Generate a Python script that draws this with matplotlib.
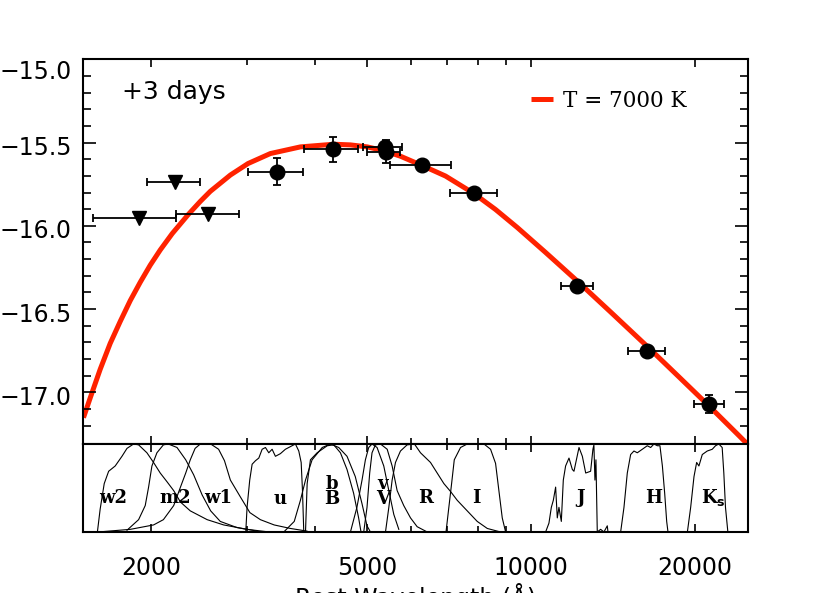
"""
SED at +3 days: broad-band photometry with a T = 7000 K blackbody,
plus the filter transmission curves underneath.
"""
import matplotlib
matplotlib.use("Agg")
import matplotlib.pyplot as plt
import matplotlib.transforms as mtransforms
from matplotlib.ticker import NullFormatter

# ── Photometry ───────────────────────────────────────────────────
det_wave = [3411, 4317, 5375, 5400, 6304, 7847, 12155, 16355, 21232]
det_mag = [-15.674, -15.540, -15.524, -15.554, -15.634, -15.800, -16.364, -16.754, -17.070]
det_wave_lo = [3017, 3830, 4911, 4994, 5512, 7086, 11325, 15092, 19950]
det_wave_hi = [3808, 4800, 5793, 5750, 7108, 8638, 12990, 17620, 22570]
det_mag_err = [0.080, 0.074, 0.030, 0.070, 0.015, 0.015, 0.015, 0.015, 0.055]

# UV upper limits (w2, m2, w1)
lim_wave = [1900, 2210, 2550]
lim_mag = [-15.950, -15.734, -15.930]
lim_wave_lo = [1568, 1967, 2223]
lim_wave_hi = [2223, 2465, 2908]

# Blackbody model curve
bb_wave = [1503, 1547, 1613, 1683, 1756, 1832, 1911, 1994, 2080, 2189, 2345,
           2465, 2571, 2799, 3016, 3315, 3765, 4335, 4653, 4994, 5351, 5750,
           6304, 6958, 7847, 8600, 9428, 10629, 12158, 14001, 16354, 18673,
           21231, 23946, 25120]
bb_mag = [-17.152, -17.032, -16.862, -16.706, -16.574, -16.449, -16.339, -16.236,
          -16.145, -16.046, -15.930, -15.853, -15.793, -15.695, -15.626, -15.566,
          -15.526, -15.510, -15.514, -15.526, -15.548, -15.582, -15.638, -15.701,
          -15.806, -15.902, -16.010, -16.160, -16.332, -16.518, -16.725, -16.906,
          -17.082, -17.251, -17.319]

# ── Filter transmission curves ───────────────────────────────────
w2_wave = [1595, 1613, 1641, 1672, 1719, 1769, 1807, 1858, 1898, 1966, 2022, 2080,
           2141, 2202, 2266, 2362, 2537, 2721, 3004, 3300]
w2_trans = [0.01, 0.26, 0.55, 0.69, 0.75, 0.86, 0.95, 1.0, 0.99, 0.90, 0.79, 0.67,
            0.57, 0.47, 0.34, 0.24, 0.14, 0.08, 0.03, 0.0]
m2_wave = [1807, 1898, 1952, 1980, 2008, 2051, 2108, 2152, 2233, 2317, 2396, 2484,
           2575, 2682, 2879, 3134]
m2_trans = [0.02, 0.14, 0.30, 0.51, 0.75, 0.90, 0.99, 1.0, 0.96, 0.82, 0.65, 0.42,
            0.24, 0.12, 0.05, 0.01]
w1_wave = [1600, 1833, 2022, 2108, 2202, 2266, 2317, 2362, 2411, 2465, 2575, 2663,
           2730, 2799, 2919, 3040, 3178, 3369, 3609, 3871]
w1_trans = [0.0, 0.03, 0.08, 0.14, 0.30, 0.51, 0.67, 0.82, 0.95, 1.0, 1.0, 0.94,
            0.81, 0.59, 0.40, 0.22, 0.14, 0.08, 0.04, 0.01]
u_wave = [2988, 3004, 3038, 3069, 3113, 3157, 3202, 3247, 3293, 3340, 3387, 3459,
          3533, 3609, 3686, 3739, 3777, 3798, 3819]
u_trans = [0.01, 0.28, 0.59, 0.77, 0.81, 0.84, 0.94, 0.96, 0.90, 0.94, 0.86, 0.89,
           0.94, 0.97, 1.0, 0.92, 0.79, 0.47, 0.0]
b_wave = [3847, 3874, 3928, 4041, 4218, 4336, 4460, 4586, 4716, 4817, 4866]
b_trans = [0.0, 0.55, 0.82, 0.90, 0.98, 0.99, 0.90, 0.71, 0.44, 0.16, 0.0]
B_wave = [3509, 3668, 3765, 3847, 3956, 4129, 4275, 4428, 4586, 4749, 4887, 4991, 5064]
B_trans = [0.0, 0.12, 0.36, 0.59, 0.82, 0.96, 1.0, 0.96, 0.86, 0.63, 0.32, 0.07, 0.0]
v_wave = [4653, 4782, 4887, 4957, 5027, 5098, 5208, 5358, 5474, 5590, 5710]
v_trans = [0.0, 0.28, 0.59, 0.82, 0.96, 1.0, 0.96, 0.75, 0.47, 0.20, 0.03]
V_wave = [4922, 4991, 5048, 5098, 5171, 5284, 5436, 5551, 5670, 5831, 6000, 6171, 6440]
V_trans = [0.0, 0.28, 0.67, 0.90, 0.99, 1.0, 0.94, 0.75, 0.47, 0.30, 0.16, 0.06, 0.0]
R_wave = [5397, 5474, 5551, 5630, 5750, 5914, 6100, 6259, 6530, 6717, 6910, 7108,
          7312, 7628, 7958, 8304, 8784]
R_trans = [0.0, 0.28, 0.59, 0.79, 0.92, 0.99, 1.0, 0.90, 0.79, 0.67, 0.55, 0.46,
           0.36, 0.24, 0.12, 0.04, 0.0]
I_wave = [6973, 7057, 7140, 7221, 7415, 7628, 8188, 8420, 8600, 8722, 8847, 8974]
I_trans = [0.0, 0.28, 0.55, 0.82, 0.96, 1.0, 1.0, 0.94, 0.78, 0.47, 0.16, 0.0]
J_wave = [10630, 10780, 10890, 10982, 11090, 11168, 11247, 11360, 11456, 11568,
          11735, 11903, 11985, 12243, 12418, 12595, 12860, 12986, 13040, 13097,
          13153, 13228, 13417, 13606, 13800, 13840]
J_trans = [0.0, 0.10, 0.28, 0.36, 0.51, 0.16, 0.28, 0.12, 0.59, 0.75,
           0.84, 0.71, 0.69, 0.96, 0.86, 0.67, 0.69, 0.94, 0.99, 0.59,
           0.82, 0.0, 0.03, 0.0, 0.07, 0.0]
H_wave = [14603, 14810, 15020, 15234, 15449, 15669, 16005, 16346, 16581, 16816,
          17057, 17245, 17425, 17595, 17745, 17843]
H_trans = [0.0, 0.28, 0.67, 0.88, 0.92, 0.90, 0.94, 0.98, 0.96, 1.0,
           0.98, 0.98, 0.75, 0.44, 0.12, 0.0]
K_wave = [19370, 19641, 19920, 20145, 20339, 20630, 21068, 21520, 21821, 22128,
          22443, 22600, 22760, 22990]
K_trans = [0.0, 0.28, 0.63, 0.79, 0.75, 0.88, 0.92, 0.94, 0.98, 1.0,
           0.96, 0.67, 0.28, 0.0]

filt_label = ["w2", "m2", "w1", "u", "b\nB", "v\nV", "R", "I", "J", "H", r"K$_\mathbf{s}$"]
filt_label_wave = [1707, 2217, 2663, 3459, 4295, 5340, 6390, 7935, 12326, 16816, 21600]
filt_label_y = [0.39, 0.39, 0.39, 0.38, 0.46, 0.46, 0.39, 0.39, 0.39, 0.39, 0.39]

x_ticks = [2000, 5000, 10000, 20000]
x_minor = [3000, 4000, 6000, 7000, 8000, 9000]

RED = "#ff2200"

# ── Figure ───────────────────────────────────────────────────────
fig = plt.figure(figsize=(8.3, 5.93), dpi=100)
ax = fig.add_axes([0.100, 0.2513, 0.8008, 0.6487])
axf = fig.add_axes([0.100, 0.1029, 0.8008, 0.1484])

# blackbody
ax.plot(bb_wave, bb_mag, color=RED, lw=3.6, solid_capstyle="butt",
        solid_joinstyle="round", zorder=1, label="T = 7000 K")

# detections
xerr = [[w - lo for w, lo in zip(det_wave, det_wave_lo)],
        [hi - w for w, hi in zip(det_wave, det_wave_hi)]]
ax.errorbar(det_wave, det_mag, xerr=xerr, yerr=det_mag_err, fmt="o",
            color="black", ms=10.5, ecolor="black", elinewidth=1.3,
            capsize=3, capthick=1.3, zorder=3)

# upper limits
lxerr = [[w - lo for w, lo in zip(lim_wave, lim_wave_lo)],
         [hi - w for w, hi in zip(lim_wave, lim_wave_hi)]]
ax.errorbar(lim_wave, lim_mag, xerr=lxerr, fmt="v", color="black", ms=10.5,
            ecolor="black", elinewidth=1.3, capsize=3, capthick=1.3, zorder=3)

ax.set_xscale("log")
ax.set_xlim(1500, 25000)
ax.set_ylim(-17.31, -15.0)
ax.set_yticks([-17.0, -16.5, -16.0, -15.5, -15.0])
ax.set_yticks([-17.2 + 0.1 * i for i in range(23)], minor=True)
ax.set_xticks(x_ticks)
ax.set_xticks(x_minor, minor=True)
ax.xaxis.set_minor_formatter(NullFormatter())
ax.tick_params(which="both", direction="in", top=True, right=True, width=1.2,
               labelbottom=False)
ax.tick_params(axis="y", which="major", length=9.5, labelsize=17, pad=8)
ax.tick_params(axis="y", which="minor", length=5.5)
ax.tick_params(axis="x", which="major", length=6)
ax.tick_params(axis="x", which="minor", length=4.5)

ax.text(0.058, 0.915, "+3 days", transform=ax.transAxes, fontsize=18,
        ha="left", va="center")
ax.legend(loc="center left", bbox_to_anchor=(0.6735, 0.892), frameon=False,
          borderaxespad=0, borderpad=0, handlelength=1.05, handletextpad=0.45,
          prop={"family": "DejaVu Serif", "size": 15.5})

# ── Filter panel ─────────────────────────────────────────────────
filters = [(w2_wave, w2_trans), (m2_wave, m2_trans), (w1_wave, w1_trans),
           (u_wave, u_trans), (b_wave, b_trans), (B_wave, B_trans),
           (v_wave, v_trans), (V_wave, V_trans), (R_wave, R_trans),
           (I_wave, I_trans), (J_wave, J_trans), (H_wave, H_trans),
           (K_wave, K_trans)]
for wave, trans in filters:
    axf.plot(wave, trans, color="black", lw=0.8)

for lab, w, y in zip(filt_label, filt_label_wave, filt_label_y):
    axf.text(w, y, lab, ha="center", va="center", fontsize=13,
             fontweight="bold", family="DejaVu Serif", linespacing=0.85)

axf.set_xscale("log")
axf.set_xlim(1500, 25000)
axf.set_ylim(0, 1.0)
axf.set_xticks(x_ticks, [str(t) for t in x_ticks])
axf.set_xticks(x_minor, minor=True)
axf.xaxis.set_minor_formatter(NullFormatter())
axf.set_yticks([])
axf.tick_params(axis="x", which="both", direction="in", top=True, bottom=True,
                width=1.2, labelsize=17, pad=17.5)
axf.tick_params(axis="x", which="major", length=6)
axf.tick_params(axis="x", which="minor", length=4.5)
axf.set_xlabel("Rest Wavelength (Å)", fontsize=17, labelpad=2)

for a in (ax, axf):
    for s in a.spines.values():
        s.set_linewidth(1.5)

# y labels sit a little below their ticks, the top one more so
fig.canvas.draw()
ylabels = ax.get_yticklabels()
for i, lbl in enumerate(ylabels):
    dy = -10 if i == len(ylabels) - 1 else -3
    lbl.set_transform(lbl.get_transform() +
                      mtransforms.ScaledTranslation(0, dy / 100, fig.dpi_scale_trans))

fig.savefig("out.png", dpi=100)
print("Saved: out.png")
